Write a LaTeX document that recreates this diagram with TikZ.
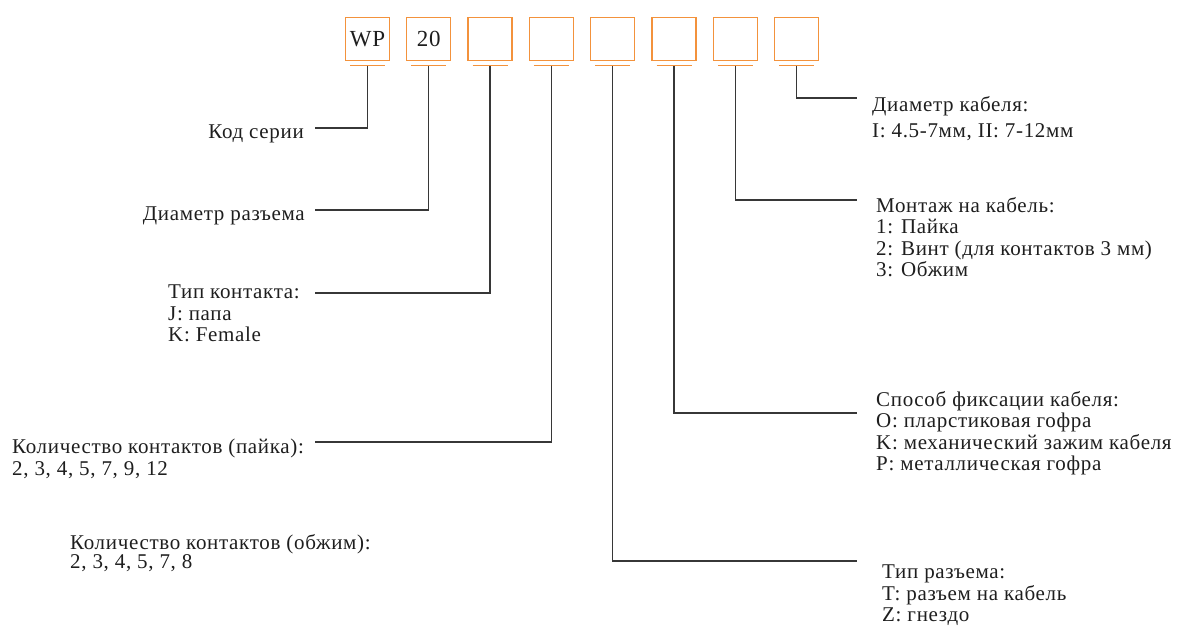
\documentclass[tikz,border=0pt]{standalone}
\usepackage{fontspec}
\setmainfont{Liberation Serif}[LetterSpace=3.2]
\usetikzlibrary{positioning}

\definecolor{codeorange}{RGB}{243,146,60}
\definecolor{leadgray}{RGB}{55,55,55}
\definecolor{textgray}{RGB}{30,30,30}

\begin{document}
\begin{tikzpicture}[x=1pt,y=-1pt,
    cell/.style={draw=codeorange,line width=1.3pt,minimum width=44pt,minimum height=43pt,inner sep=0pt,text=textgray,font=\fontsize{23}{24}\selectfont},
    bar/.style={draw=codeorange,line width=1.3pt},
    lead/.style={draw=leadgray,line width=1.3pt},
    txt/.style={inner sep=0pt,align=left,text=textgray,font=\fontsize{21}{21.5}\selectfont}]
  \useasboundingbox (0,0) rectangle (1180,629);

  \foreach \i/\t in {1/WP,2/20,3/,4/,5/,6/,7/,8/}{
    \node[cell] (b\i) at (306.2+61.3*\i,39) {\t};
    \draw[bar] ([xshift=-17.5pt,yshift=-4pt]b\i.south) -- ([xshift=17.5pt,yshift=-4pt]b\i.south);
  }

  % left side
  \coordinate (c1) at (315,128);
  \coordinate (c2) at (315,210);
  \coordinate (c3) at (315,293);
  \coordinate (c4) at (315,442);
  \node[txt,anchor=east] (series) at (304,134) {Код серии};
  \node[txt,anchor=east] (shell) at (305,216) {Диаметр разъема};
  \node[txt,anchor=north west] (contact) at (168,285) {Тип контакта:\\J: папа\\K: Female};
  \node[txt,anchor=north west] (pins) at (12,439) {Количество контактов (пайка):\\2, 3, 4, 5, 7, 9, 12};
  \node[txt,anchor=north west,font=\fontsize{21}{19.5}\selectfont] (crimp) at (70,534) {Количество контактов (обжим):\\2, 3, 4, 5, 7, 8};

  % right side
  \coordinate (c5) at (857,561);
  \coordinate (c6) at (857,413);
  \coordinate (c7) at (857,200);
  \coordinate (c8) at (857,98);
  \node[txt,anchor=north west] (plug) at (882,565) {Тип разъема:\\T: разъем на кабель\\Z: гнездо};
  \node[txt,anchor=north west] (clamp) at (876,391) {Способ фиксации кабеля:\\O: пларстиковая гофра\\K: механический зажим кабеля\\P: металлическая гофра};
  \node[txt,anchor=north west] (mount) at (876,197) {Монтаж на кабель:\\1: Пайка\\2: Винт (для контактов 3 мм)\\3: Обжим};
  \node[txt,anchor=north west,font=\fontsize{21}{26}\selectfont] (cable) at (872,96) {Диаметр кабеля:\\I: 4.5-7мм, II: 7-12мм};

  \draw[lead] ([yshift=-5pt]b1.south) |- (c1);
  \draw[lead] ([yshift=-5pt]b2.south) |- (c2);
  \draw[lead] ([yshift=-5pt]b3.south) |- (c3);
  \draw[lead] ([yshift=-5pt]b4.south) |- (c4);
  \draw[lead] ([yshift=-5pt]b5.south) |- (c5);
  \draw[lead] ([yshift=-5pt]b6.south) |- (c6);
  \draw[lead] ([yshift=-5pt]b7.south) |- (c7);
  \draw[lead] ([yshift=-5pt]b8.south) |- (c8);
\end{tikzpicture}
\end{document}
